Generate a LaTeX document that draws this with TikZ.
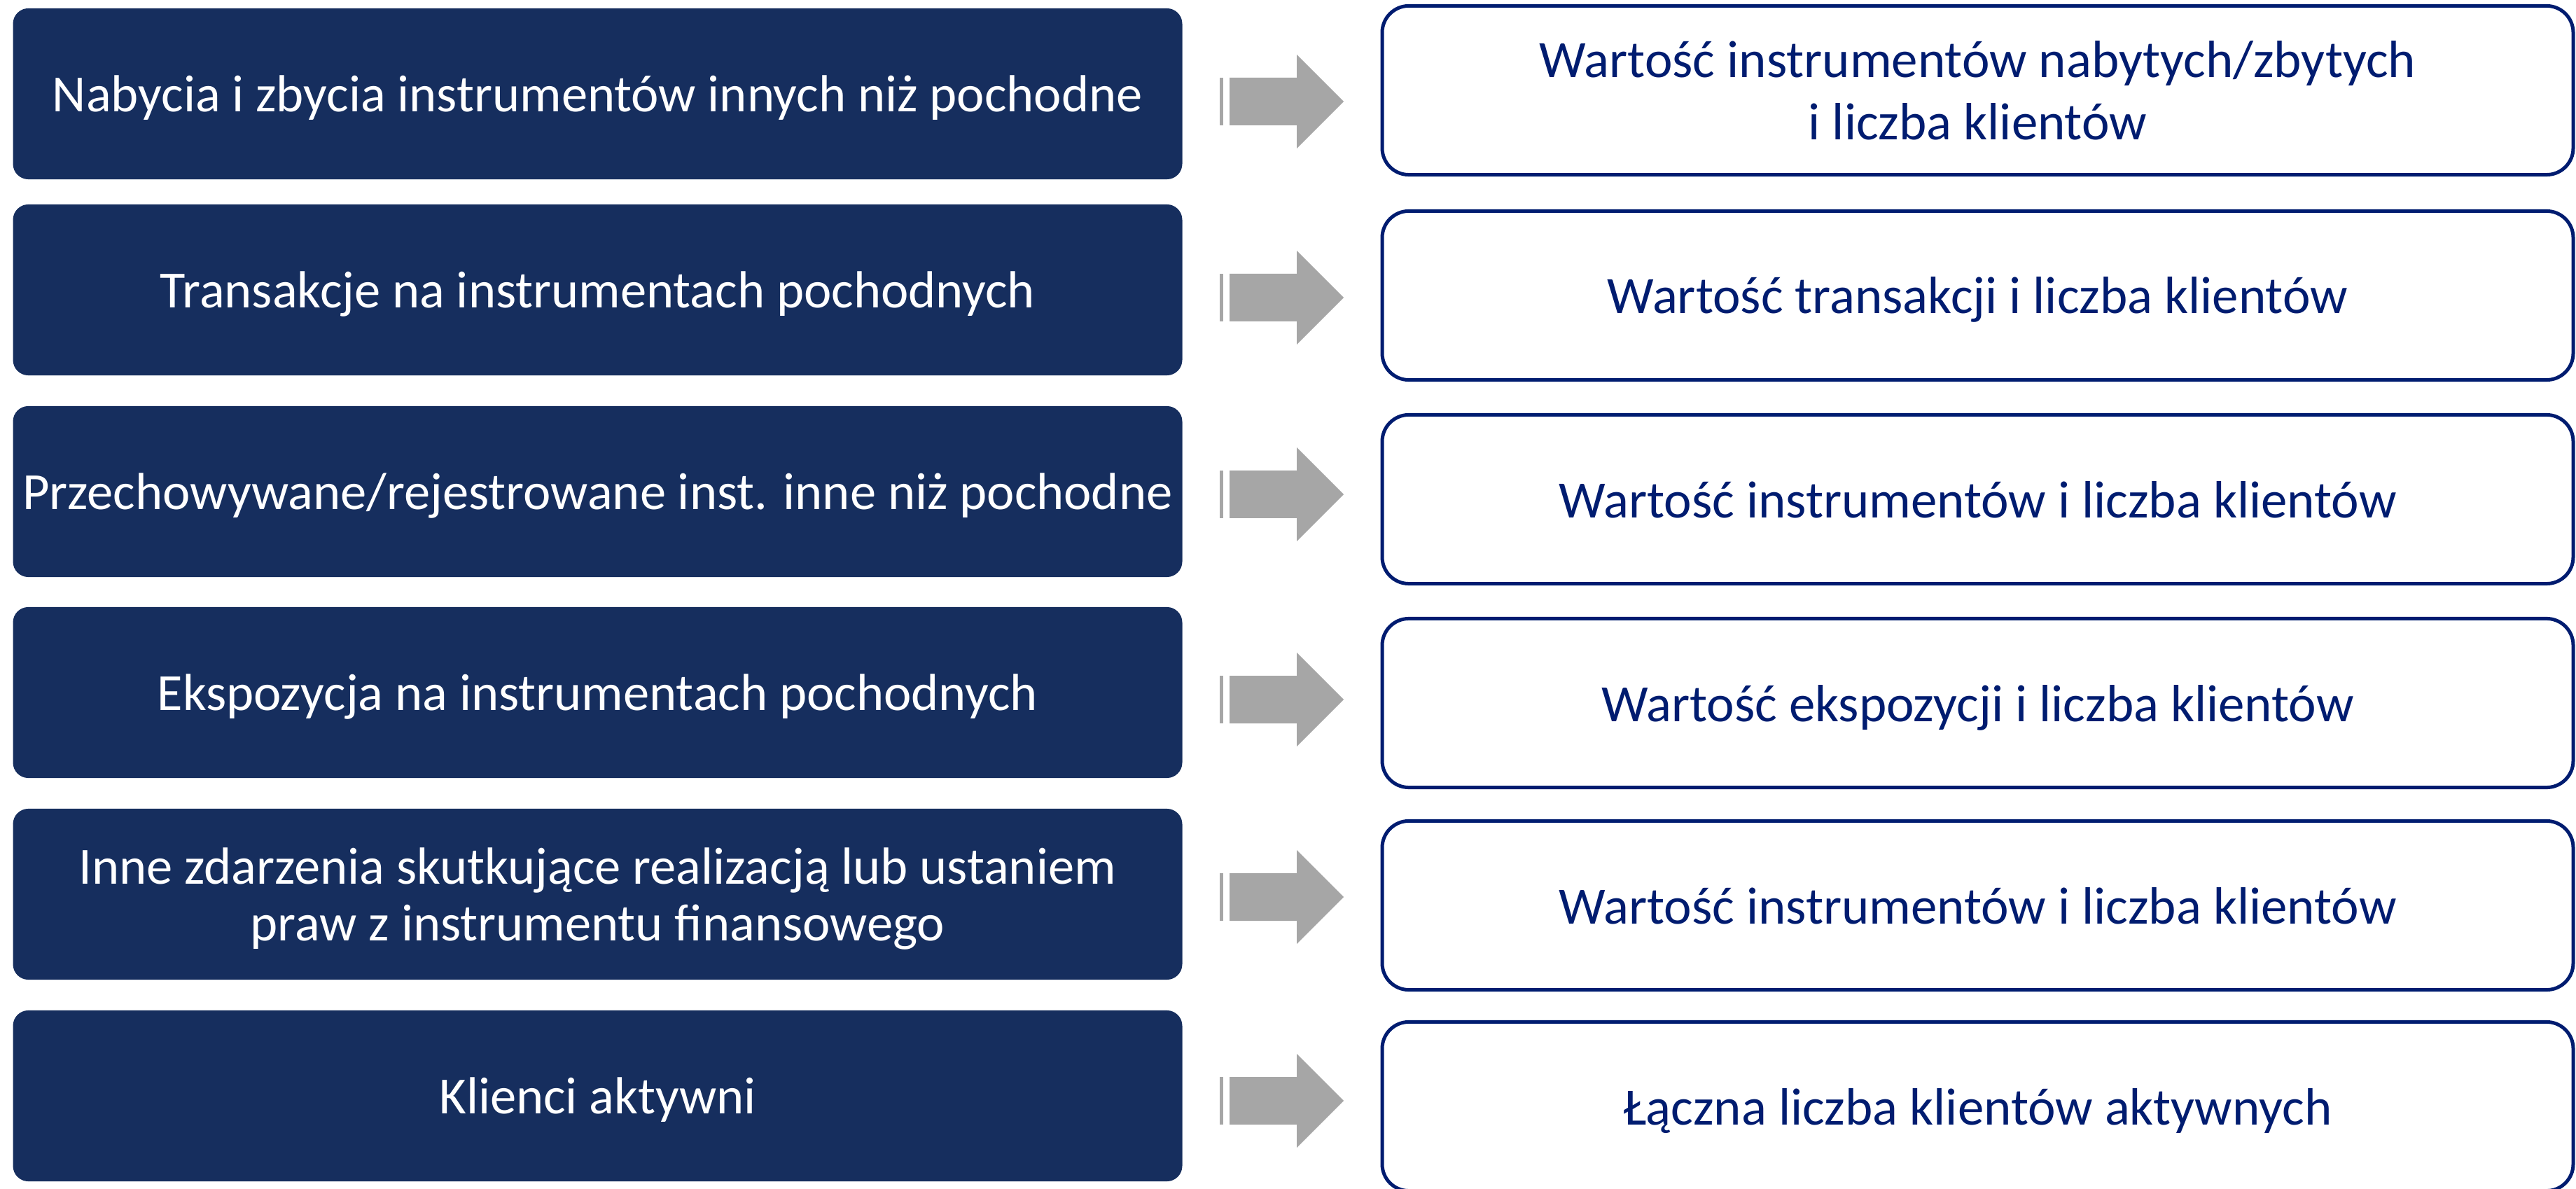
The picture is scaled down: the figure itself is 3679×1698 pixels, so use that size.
\documentclass[tikz,border=0pt]{standalone}
\usepackage{fontspec}
\setmainfont{Carlito}
\definecolor{boxnavy}{RGB}{22,46,94}
\definecolor{linenavy}{RGB}{0,28,112}
\definecolor{arrowgray}{RGB}{166,166,166}

\tikzset{
  leftbox/.style={fill=boxnavy, rounded corners=0.22cm, minimum width=16.69cm,
    minimum height=2.44cm, inner sep=0pt, text=white, align=center, text depth=0pt,
    font=\fontsize{21.2}{23.2}\selectfont},
  rightbox/.style={draw=linenavy, line width=0.05cm, fill=white, rounded corners=0.38cm,
    minimum width=17cm, minimum height=2.41cm, inner sep=0pt, text=linenavy,
    align=center, text depth=0pt, font=\fontsize{21.3}{25.3}\selectfont},
  grayarrow/.pic={
    \fill[arrowgray] (-88.5,-34) rectangle (-83.5,34);
    \fill[arrowgray] (-74.5,-34) -- (21.5,-34) -- (21.5,-67) -- (88.5,0)
      -- (21.5,67) -- (21.5,34) -- (-74.5,34) -- cycle;
  }
}

\begin{document}
\begin{tikzpicture}[x=0.01cm,y=-0.01cm]
  \useasboundingbox (0,0) rectangle (3679,1698);
  \clip (0,0) rectangle (3679,1698);

  % left column
  \node[leftbox] (l1) at (853.5,134) {Nabycia i zbycia instrumentów innych niż pochodne};
  \node[leftbox] (l2) at (853.5,414) {Transakcje na instrumentach pochodnych};
  \node[leftbox] (l3) at (853.5,702) {Przechowywane/rejestrowane inst. inne niż pochodne};
  \node[leftbox] (l4) at (853.5,989) {Ekspozycja na instrumentach pochodnych};
  \node[leftbox] (l5) at (853.5,1277) {Inne zdarzenia skutkujące realizacją lub ustaniem\\praw z instrumentu finansowego};
  \node[leftbox] (l6) at (853.5,1565) {Klienci aktywni};

  % right column
  \node[rightbox] (r1) at (2824.5,129) {Wartość instrumentów nabytych/zbytych\\i liczba klientów};
  \node[rightbox] (r2) at (2824.5,422) {Wartość transakcji i liczba klientów};
  \node[rightbox] (r3) at (2824.5,713) {Wartość instrumentów i liczba klientów};
  \node[rightbox] (r4) at (2824.5,1004) {Wartość ekspozycji i liczba klientów};
  \node[rightbox] (r5) at (2824.5,1293) {Wartość instrumentów i liczba klientów};
  \node[rightbox] (r6) at (2824.5,1580) {Łączna liczba klientów aktywnych};

  % arrows
  \foreach \ay in {145,425,706,999,1281,1572}
    \pic at (1830.5,\ay) {grayarrow};
\end{tikzpicture}
\end{document}
